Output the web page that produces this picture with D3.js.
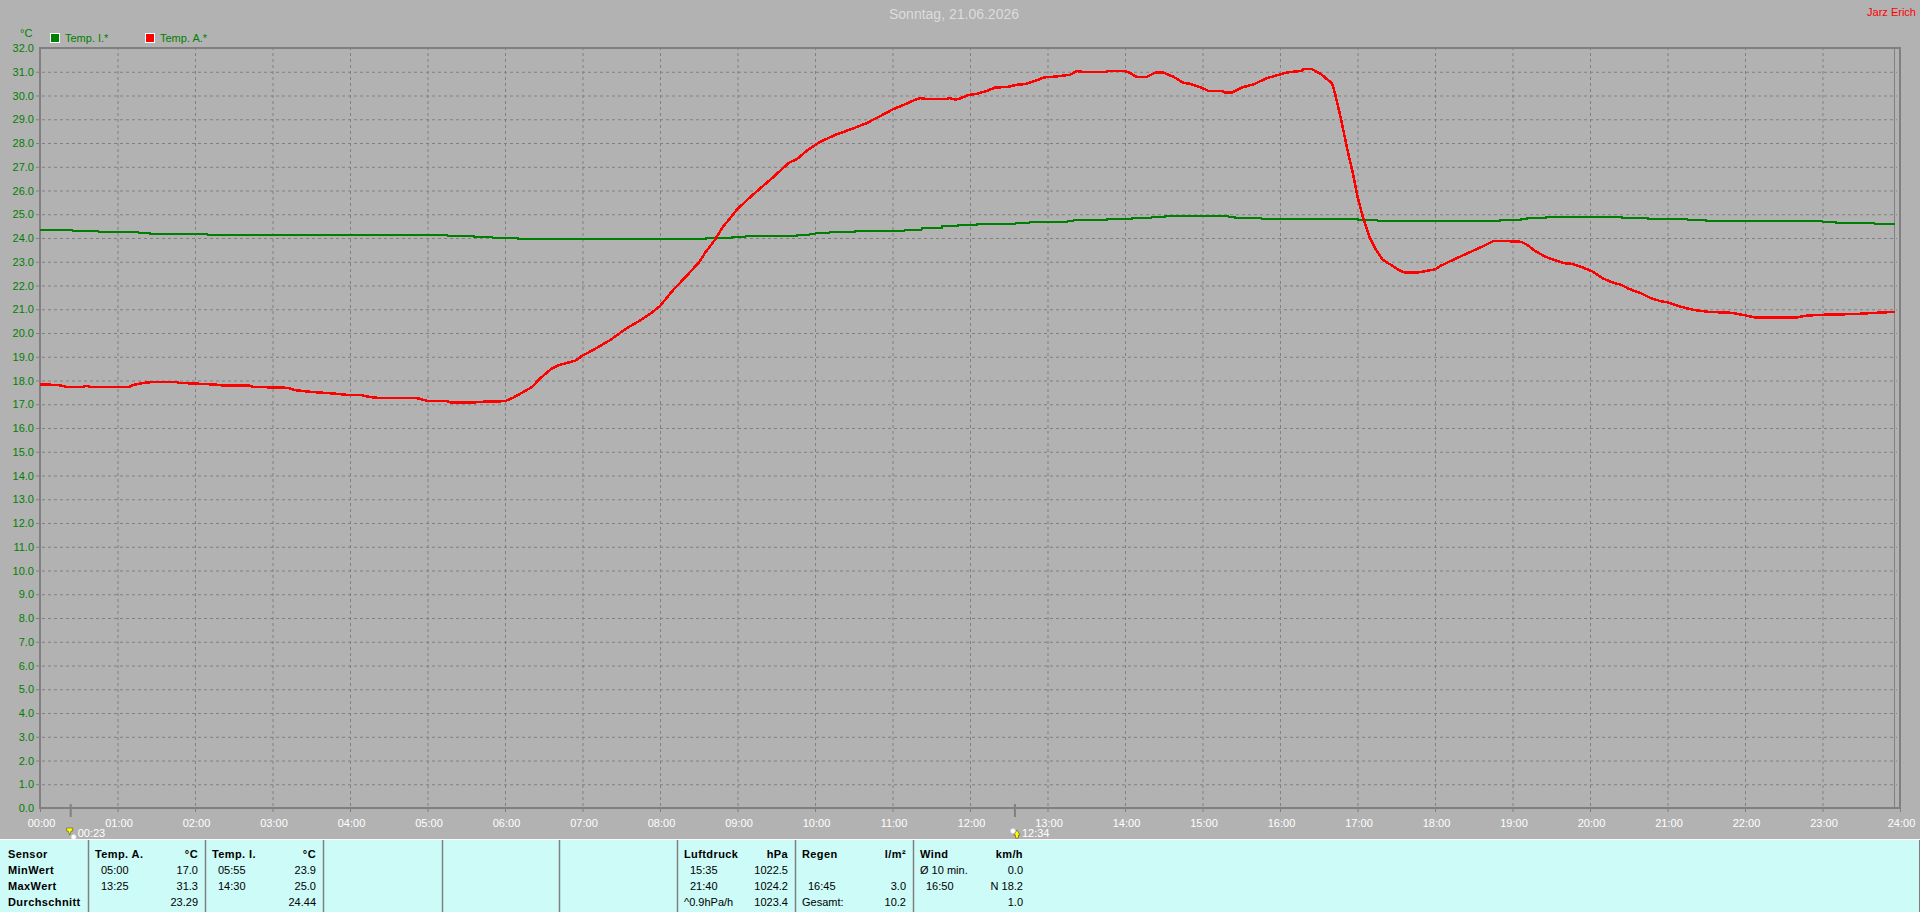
<!DOCTYPE html>
<html>
<head>
<meta charset="utf-8">
<script src="https://cdn.jsdelivr.net/npm/d3@7"></script>
<style>
html, body { margin: 0; padding: 0; background: #b2b2b2; overflow: hidden; }
svg { display: block; font-family: "Liberation Sans", Arial, sans-serif; }
text { font-size: 11px; }
.grid line { stroke: #808080; stroke-width: 1; stroke-dasharray: 3 3; }
.grid .domain { display: none; }
.frame { stroke: #808080; fill: none; shape-rendering: crispEdges; }
.curve { fill: none; shape-rendering: crispEdges; stroke-linejoin: round; }
.bold { font-weight: bold; letter-spacing: 0.4px; }
</style>
</head>
<body>
<svg id="chart" width="1920" height="912"></svg>
<script>
// hours of day / degrees
const tempATimes = [0, 0.1, 0.25, 0.35, 0.55, 0.6, 0.65, 1, 1.15, 1.2, 1.3, 1.45, 1.75, 1.8, 2, 2.25, 2.4, 2.7, 2.75, 3, 3.2, 3.3, 3.5, 3.8, 4, 4.15, 4.25, 4.35, 4.85, 4.9, 5, 5.25, 5.3, 5.6, 5.65, 6, 6.1, 6.2, 6.35, 6.45, 6.6, 6.7, 6.91, 7, 7.14, 7.36, 7.57, 7.74, 7.87, 8, 8.18, 8.34, 8.51, 8.58, 8.71, 8.81, 9, 9.16, 9.29, 9.45, 9.66, 9.77, 9.9, 10.06, 10.27, 10.48, 10.67, 10.75, 10.84, 11, 11.14, 11.27, 11.36, 11.44, 11.68, 11.74, 11.81, 11.86, 11.98, 12.09, 12.22, 12.32, 12.5, 12.6, 12.71, 12.84, 12.95, 13.08, 13.29, 13.38, 13.46, 13.74, 13.79, 14, 14.07, 14.15, 14.28, 14.39, 14.5, 14.63, 14.75, 14.84, 14.97, 15.08, 15.25, 15.29, 15.38, 15.51, 15.66, 15.83, 15.96, 16.09, 16.28, 16.3, 16.41, 16.52, 16.67, 16.71, 16.79, 16.87, 16.94, 17, 17.08, 17.16, 17.24, 17.32, 17.42, 17.53, 17.61, 17.76, 17.87, 18, 18.08, 18.26, 18.45, 18.63, 18.76, 18.87, 19.11, 19.19, 19.29, 19.42, 19.53, 19.66, 19.77, 19.9, 20.03, 20.16, 20.27, 20.41, 20.5, 20.66, 20.77, 20.92, 21, 21.21, 21.34, 21.53, 21.82, 21.98, 22.13, 22.66, 22.77, 22.92, 23.43, 23.69, 23.93];
const tempAValues = [17.83, 17.83, 17.8, 17.73, 17.73, 17.77, 17.73, 17.73, 17.73, 17.81, 17.88, 17.94, 17.94, 17.9, 17.87, 17.83, 17.78, 17.78, 17.73, 17.71, 17.69, 17.59, 17.52, 17.45, 17.38, 17.38, 17.31, 17.27, 17.27, 17.23, 17.14, 17.14, 17.07, 17.07, 17.1, 17.13, 17.27, 17.45, 17.73, 18.08, 18.5, 18.65, 18.84, 19.05, 19.29, 19.71, 20.2, 20.52, 20.8, 21.14, 21.85, 22.39, 23, 23.37, 23.93, 24.46, 25.22, 25.71, 26.08, 26.53, 27.16, 27.33, 27.69, 28.04, 28.35, 28.6, 28.84, 28.98, 29.13, 29.41, 29.6, 29.79, 29.89, 29.85, 29.85, 29.89, 29.83, 29.86, 30.02, 30.07, 30.2, 30.33, 30.37, 30.45, 30.48, 30.61, 30.76, 30.79, 30.87, 31.03, 30.99, 30.99, 31.03, 31.03, 30.94, 30.78, 30.78, 30.96, 30.96, 30.78, 30.54, 30.49, 30.35, 30.19, 30.19, 30.13, 30.13, 30.34, 30.47, 30.73, 30.85, 30.97, 31.04, 31.11, 31.11, 30.92, 30.52, 30.09, 28.97, 27.71, 26.73, 25.74, 24.76, 24, 23.5, 23.1, 22.89, 22.66, 22.54, 22.54, 22.6, 22.68, 22.84, 23.12, 23.4, 23.67, 23.88, 23.88, 23.84, 23.71, 23.46, 23.22, 23.08, 22.94, 22.91, 22.77, 22.59, 22.31, 22.15, 22.02, 21.86, 21.67, 21.49, 21.33, 21.29, 21.07, 20.97, 20.89, 20.85, 20.76, 20.65, 20.65, 20.72, 20.76, 20.8, 20.85, 20.89];

const tempITimes = [0, 0.42, 0.76, 1.27, 1.42, 2.17, 5.26, 5.6, 5.84, 6.17, 8.59, 8.93, 9.11, 9.77, 9.93, 10.01, 10.19, 10.52, 11.16, 11.38, 11.64, 11.85, 12.09, 12.59, 12.77, 13.26, 13.34, 13.77, 14.09, 14.35, 14.52, 15.33, 15.42, 15.76, 17.01, 17.26, 18.84, 19.11, 19.19, 19.43, 20.41, 20.75, 21.26, 21.5, 23, 23.17, 23.67, 23.93];
const tempIValues = [24.32, 24.28, 24.24, 24.2, 24.15, 24.11, 24.07, 24.03, 23.99, 23.94, 24.01, 24.06, 24.1, 24.14, 24.18, 24.22, 24.27, 24.31, 24.35, 24.43, 24.52, 24.56, 24.6, 24.65, 24.69, 24.73, 24.77, 24.81, 24.86, 24.9, 24.94, 24.9, 24.85, 24.8, 24.76, 24.72, 24.76, 24.8, 24.85, 24.89, 24.85, 24.8, 24.76, 24.72, 24.68, 24.64, 24.59, 24.59];

const yTicks = d3.range(0, 33);
const xTicks = d3.range(0, 25);

const legendItems = ["Temp. I.*", "Temp. A.*"];
const legendColors = ["#008000", "#ff0000"];

// left column labels of the info strip
const rowLabels = ["Sensor", "MinWert", "MaxWert", "Durchschnitt"];
// one column per block: name, unit, then time and value of each row
const blockNames = ["Temp. A.", "Temp. I.", "", "", "", "Luftdruck", "Regen", "Wind"];
const blockUnits = ["°C", "°C", "", "", "", "hPa", "l/m²", "km/h"];
const blockTimes = [["05:00", "13:25", ""], ["05:55", "14:30", ""], [], [], [], ["15:35", "21:40", "^0.9hPa/h"], ["", "16:45", "Gesamt:"], ["Ø 10 min.", "16:50", ""]];
const blockValues = [["17.0", "31.3", "23.29"], ["23.9", "25.0", "24.44"], [], [], [], ["1022.5", "1024.2", "1023.4"], ["", "3.0", "10.2"], ["0.0", "N 18.2", "1.0"]];
const blockEdges = [88, 205, 323, 442, 559, 677, 795, 913];

const sunMarks = [{ t: 0.383, label: "00:23" }, { t: 12.567, label: "12:34" }];

const svg = d3.select("#chart");
const green = "#008000", red = "#ff0000", frameGray = "#808080";

const x = d3.scaleLinear().domain([0, 24]).range([40, 1900]);
const y = d3.scaleLinear().domain([0, 32]).range([808, 48]);

// grid, using the axis ticks
const yAxis = svg.append("g").attr("class", "grid")
    .attr("transform", "translate(36,0)")
    .call(d3.axisLeft(y).tickValues(yTicks).tickSize(-1861).tickPadding(2).tickFormat(d3.format(".1f")));
yAxis.selectAll("line").filter(d => d === 0 || d === 32).remove();
yAxis.selectAll("text").attr("fill", green).attr("x", -2).attr("text-anchor", "end");

const fmtHour = d => String(d).padStart(2, "0") + ":00";
const xAxis = svg.append("g").attr("class", "grid")
    .attr("transform", "translate(0,812)")
    .call(d3.axisBottom(x).tickValues(xTicks).tickSize(-764).tickFormat(fmtHour));
xAxis.selectAll("text").attr("fill", "#ffffff").attr("y", 15).attr("dy", 0).attr("dx", 1).attr("dominant-baseline", "auto");
xAxis.selectAll("line").filter(d => d === 24).attr("y2", -4).style("stroke-dasharray", "none");
xAxis.selectAll("line").filter(d => d === 0).attr("y2", -4).style("stroke-dasharray", "none");

// frame
svg.append("rect").attr("class", "frame").attr("x", 40).attr("y", 48).attr("width", 1860).attr("height", 760).attr("stroke-width", 2);
svg.append("line").attr("class", "frame").attr("x1", 1894.5).attr("x2", 1894.5).attr("y1", 48).attr("y2", 808);

// curves
const tempIData = tempITimes.map((t, i) => [t, tempIValues[i]]);
const tempAData = tempATimes.map((t, i) => [t, tempAValues[i]]);
const stepLine = d3.line().x(d => x(d[0])).y(d => y(d[1])).curve(d3.curveStepAfter);
const plainLine = d3.line().x(d => x(d[0])).y(d => y(d[1]));
svg.append("path").attr("class", "curve").attr("stroke", green).attr("stroke-width", 2).attr("d", stepLine(tempIData));
svg.append("path").attr("class", "curve").attr("stroke", red).attr("stroke-width", 2.5).attr("d", plainLine(tempAData));

// title etc
svg.append("text").attr("x", 954).attr("y", 19).attr("text-anchor", "middle").attr("fill", "#dcdcdc").style("font-size", "14px").text("Sonntag, 21.06.2026");
svg.append("text").attr("x", 1916).attr("y", 16).attr("text-anchor", "end").attr("fill", red).text("Jarz Erich");
svg.append("text").attr("x", 20).attr("y", 37).attr("fill", green).text("°C");

// legend
const legend = svg.selectAll(".legend").data(legendItems).enter().append("g")
    .attr("class", "legend").attr("transform", (d, i) => `translate(${50 + i * 95},33)`);
legend.append("rect").attr("x", 0.5).attr("y", 0.5).attr("width", 9).attr("height", 9)
    .attr("fill", (d, i) => legendColors[i]).attr("stroke", "#ffffff");
legend.append("text").attr("x", 15).attr("y", 9).attr("fill", green).text(d => d);

// sun rise / transit marks under the axis
const marks = svg.selectAll(".mark").data(sunMarks).enter().append("g").attr("class", "mark");
marks.append("line").attr("x1", d => x(d.t) + 1).attr("x2", d => x(d.t) + 1).attr("y1", 804).attr("y2", 817)
    .attr("stroke", frameGray).attr("stroke-width", 2);
marks.append("text").attr("x", d => x(d.t) + 8).attr("y", 837).attr("fill", "#ffffff").text(d => d.label);
marks.append("path").attr("fill", "#ffff00").attr("stroke", "#404000").attr("stroke-width", 0.5)
    .attr("d", (d, i) => {
        const cx = x(d.t) + (i === 0 ? 0 : 3);
        return i === 0
            ? `M${cx - 3},828h6v3h-1.5l-1.5,4l-1.5,-4h-1.5z`
            : `M${cx - 1.5},838v-3h-1.5l3,-5l3,5h-1.5v3z`;
    });
marks.append("circle").attr("cx", (d, i) => x(d.t) + (i === 0 ? 4 : -1)).attr("cy", (d, i) => i === 0 ? 837 : 831)
    .attr("r", 2.5).attr("fill", "#ffffff").attr("stroke", "#c8c8f0").attr("stroke-width", 0.5);

// info strip
const strip = svg.append("g");
strip.append("rect").attr("x", 0).attr("y", 839).attr("width", 1920).attr("height", 73).attr("fill", "#ccfbf8");
strip.append("line").attr("x1", 0).attr("x2", 1920).attr("y1", 839.5).attr("y2", 839.5).attr("stroke", "#ffffff");
strip.append("line").attr("x1", 1919.5).attr("x2", 1919.5).attr("y1", 840).attr("y2", 912).attr("stroke", frameGray);
strip.selectAll(".edge").data(blockEdges).enter().append("line").attr("class", "edge")
    .attr("x1", d => d + 0.5).attr("x2", d => d + 0.5).attr("y1", 840).attr("y2", 912)
    .attr("stroke", frameGray).attr("stroke-width", 1.5);

const rowY = [858, 874, 890, 906];
strip.selectAll(".rowLabel").data(rowLabels).enter().append("text").attr("class", "rowLabel bold")
    .attr("x", 8).attr("y", (d, i) => rowY[i]).attr("fill", "#000").text(d => d);

blockNames.forEach((name, b) => {
    if (!name) return;
    const left = blockEdges[b] + 7, right = (blockEdges[b + 1] || blockEdges[b] + 117) - 7;
    strip.append("text").attr("class", "bold").attr("x", left).attr("y", rowY[0]).text(name);
    strip.append("text").attr("class", "bold").attr("x", right).attr("y", rowY[0]).attr("text-anchor", "end").text(blockUnits[b]);
    blockTimes[b].forEach((t, i) => {
        const indent = /^\d/.test(t) ? 6 : 0;
        strip.append("text").attr("x", left + indent).attr("y", rowY[i + 1]).text(t);
    });
    blockValues[b].forEach((v, i) => {
        strip.append("text").attr("x", right).attr("y", rowY[i + 1]).attr("text-anchor", "end").text(v);
    });
});
</script>
</body>
</html>
